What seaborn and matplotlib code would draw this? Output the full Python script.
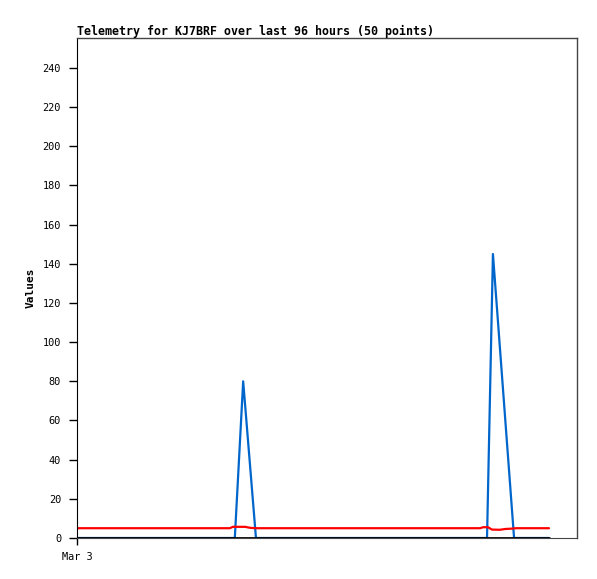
import matplotlib
matplotlib.use("Agg")
import matplotlib.pyplot as plt
import seaborn as sns
import pandas as pd

# Data (hours since Mar 3 00:00)
blue_hours = [0, 32.1, 33.8, 36.4, 83.4, 84.6, 88.9, 96]
blue_vals = [0, 0, 80, 0, 0, 145, 0, 0]

red_hours = [0, 31.1, 31.7, 34.2, 35.2, 36.4, 82.0, 82.6, 83.6, 84.4, 86.0, 87.1, 88.5, 89.3, 96]
red_vals = [5, 5, 5.7, 5.7, 5.2, 5, 5, 5.5, 5.5, 4.3, 4.2, 4.6, 4.8, 5, 5]

black_hours = [0, 96]
black_vals = [0, 0]

y_ticks = list(range(0, 241, 20))
x_tick_pos = [0]
x_tick_labels = ["Mar 3"]
title = "Telemetry for KJ7BRF over last 96 hours (50 points)"

sns.set_style("white")
plt.rcParams["font.family"] = ["DejaVu Sans Mono"]
plt.rcParams["text.color"] = "black"
plt.rcParams["axes.labelcolor"] = "black"
plt.rcParams["xtick.color"] = "black"
plt.rcParams["ytick.color"] = "black"

fig = plt.figure(figsize=(5.97, 5.79), dpi=100)
ax = fig.add_axes([77/597, 1 - 538/579, 500/597, 500/579])

sns.lineplot(x=blue_hours, y=blue_vals, ax=ax, color="#0066CC", linewidth=1.6)
sns.lineplot(x=red_hours, y=red_vals, ax=ax, color="#FF0000", linewidth=1.6)
sns.lineplot(x=black_hours, y=black_vals, ax=ax, color="#000000", linewidth=2)

ax.set_xlim(0, 101.7)
ax.set_ylim(0, 255.3)
ax.set_yticks(y_ticks)
ax.set_yticklabels([str(v) for v in y_ticks], fontsize=7.4)
ax.set_xticks(x_tick_pos)
ax.set_xticklabels(x_tick_labels, fontsize=7.4)
ax.tick_params(axis="y", direction="out", length=5.5, width=1, color="black", pad=6, left=True)
ax.tick_params(axis="x", direction="out", length=5, width=1, color="black", pad=5, bottom=True)

for side in ["top", "right"]:
    ax.spines[side].set_color("#444444")
    ax.spines[side].set_linewidth(1)
ax.spines["left"].set_color("black")
ax.spines["bottom"].set_color("#444444")

ax.set_ylabel("Values", fontsize=8, fontweight="bold", labelpad=5)
ax.set_xlabel("")
ax.set_title(title, loc="left", fontsize=8.4, fontweight="bold", pad=2)

fig.savefig("out.png", dpi=100)
